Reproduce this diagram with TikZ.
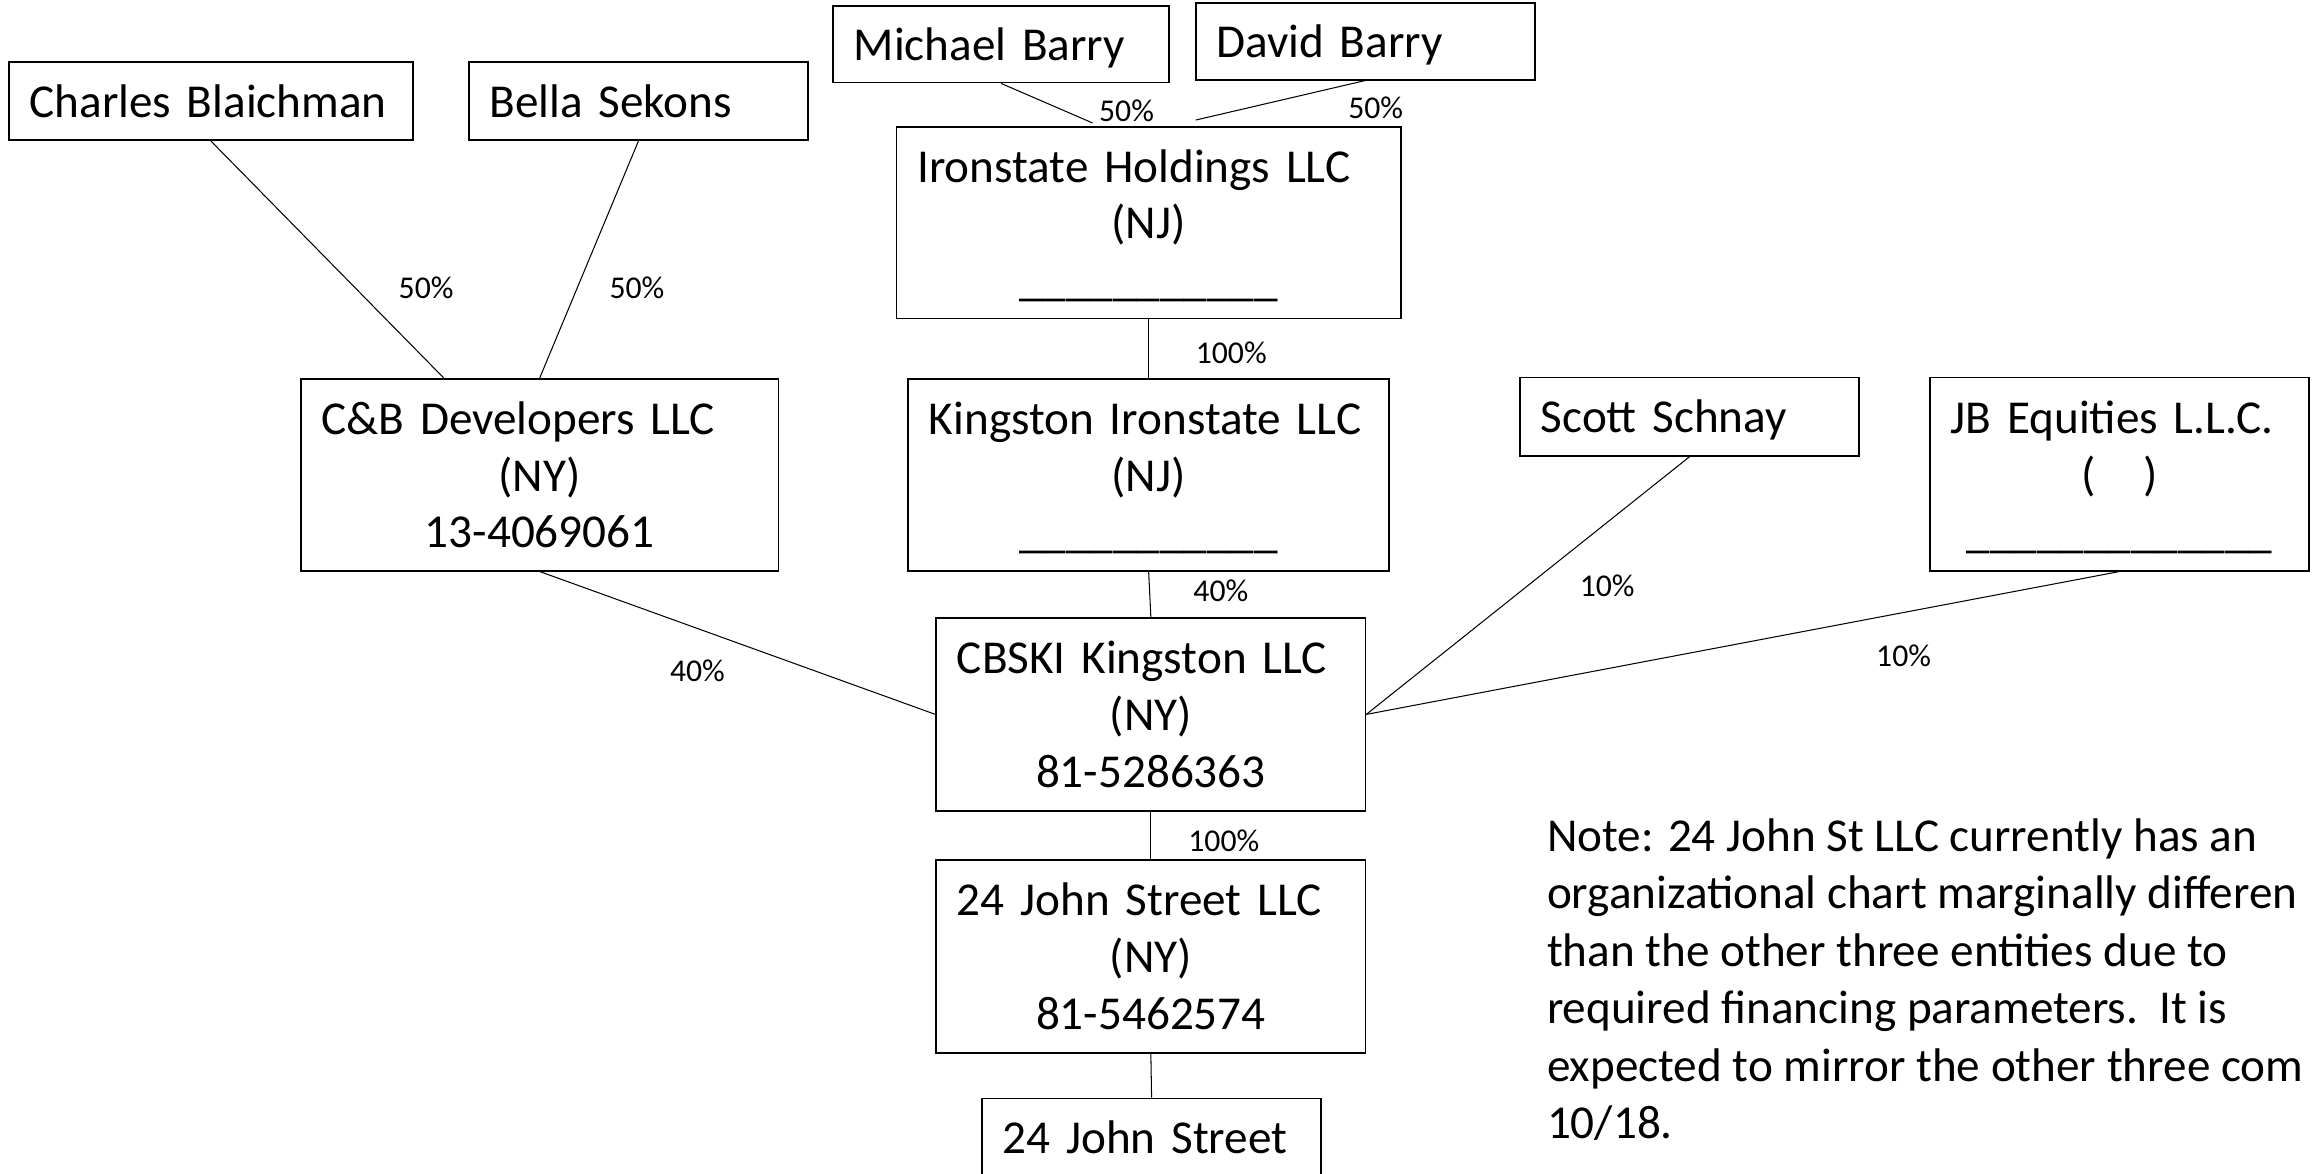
\documentclass[tikz,border=0pt]{standalone}
\usepackage{fontspec}
\setmainfont{Carlito}
\newcommand\boxfirst[1]{\makebox[\hsize][l]{\vrule width0pt height22pt #1}}
\begin{document}
\begin{tikzpicture}[x=1pt,y=-1pt,
  box/.style={draw, line width=1.2pt, rectangle, inner xsep=14pt, inner ysep=0pt,
    align=center, text height=22pt, text depth=0pt, font=\fontsize{32}{38.5}\selectfont},
  box3/.style={box, text depth=77pt},
  conn/.style={line width=0.7pt},
  pct/.style={font=\fontsize{21.5}{24}\selectfont, inner sep=0pt},
  notetext/.style={font=\fontsize{32}{39}\selectfont, inner sep=0pt, align=left}]
\useasboundingbox (0,0) rectangle (1568,796);
\clip (0,0) rectangle (1568,796);

% boxes
\node[box, minimum width=274pt, minimum height=53pt, text width=246pt] (charles) at (143,68.5) {\boxfirst{Charles Blaichman}};
\node[box, minimum width=230pt, minimum height=53pt, text width=202pt] (bella) at (433,68.5) {\boxfirst{Bella Sekons}};
\node[box, minimum width=228pt, minimum height=52pt, text width=200pt] (michael) at (679,30) {\boxfirst{Michael Barry}};
\node[box, minimum width=230pt, minimum height=52pt, text width=202pt] (david) at (926,28) {\boxfirst{David Barry}};
\node[box3, minimum width=342pt, minimum height=130pt, text width=314pt] (ihold) at (779,151) {\boxfirst{Ironstate Holdings LLC}\\(NJ)\\\_\_\_\_\_\_\_\_\_\_\_};
\node[box3, minimum width=324pt, minimum height=130pt, text width=296pt] (cb) at (366,322) {\boxfirst{C\&B Developers LLC}\\(NY)\\13-4069061};
\node[box3, minimum width=326pt, minimum height=130pt, text width=298pt] (kiron) at (779,322) {\boxfirst{Kingston Ironstate LLC}\\(NJ)\\\_\_\_\_\_\_\_\_\_\_\_};
\node[box, minimum width=230pt, minimum height=53pt, text width=202pt] (scott) at (1146,282.5) {\boxfirst{Scott Schnay}};
\node[box3, minimum width=257pt, minimum height=131pt, text width=229pt] (jb) at (1437.5,321.5) {\boxfirst{JB Equities L.L.C.}\\(\ \ \ )\\\_\_\_\_\_\_\_\_\_\_\_\_\_};
\node[box3, minimum width=291pt, minimum height=131pt, text width=263pt] (cbski) at (780.5,484.5) {\boxfirst{CBSKI Kingston LLC}\\(NY)\\81-5286363};
\node[box3, minimum width=291pt, minimum height=131pt, text width=263pt] (jsllc) at (780.5,648.5) {\boxfirst{24 John Street LLC}\\(NY)\\81-5462574};
\node[box, minimum width=230pt, minimum height=53pt, text width=202pt] (js) at (781,771.5) {\boxfirst{24 John Street}};

% connectors
\draw[conn] (charles.south) -- ([xshift=-65pt]cb.north);
\draw[conn] (bella.south) -- (cb.north);
\draw[conn] (michael.south) -- ([xshift=-38pt,yshift=2pt]ihold.north);
\draw[conn] (david.south) -- ([xshift=32pt,yshift=4pt]ihold.north);
\draw[conn] (ihold.south) -- (kiron.north);
\draw[conn] (kiron.south) -- (cbski.north);
\draw[conn] (cb.south) -- (cbski.west);
\draw[conn] (scott.south) -- (cbski.east);
\draw[conn] (jb.south) -- (cbski.east);
\draw[conn] (cbski.south) -- (jsllc.north);
\draw[conn] (jsllc.south) -- (js.north);

% percentages
\node[pct] (p1) at (289,195) {50\%};
\node[pct] (p2) at (432,195) {50\%};
\node[pct] (p3) at (764,75) {50\%};
\node[pct] (p4) at (933,73) {50\%};
\node[pct] (p5) at (835,239) {100\%};
\node[pct] (p6) at (828,401) {40\%};
\node[pct] (p7) at (473,455) {40\%};
\node[pct] (p8) at (1090,397) {10\%};
\node[pct] (p9) at (1291,445) {10\%};
\node[pct] (p10) at (830,570) {100\%};

% note
\node[notetext, anchor=north west] (note) at (1049,553) {\vrule width0pt height24pt Note: 24 John St LLC currently has an\\organizational chart marginally differen\\than the other three entities due to\\required financing parameters.\ \ It is\\expected to mirror the other three com\\10/18.};
\end{tikzpicture}
\end{document}
